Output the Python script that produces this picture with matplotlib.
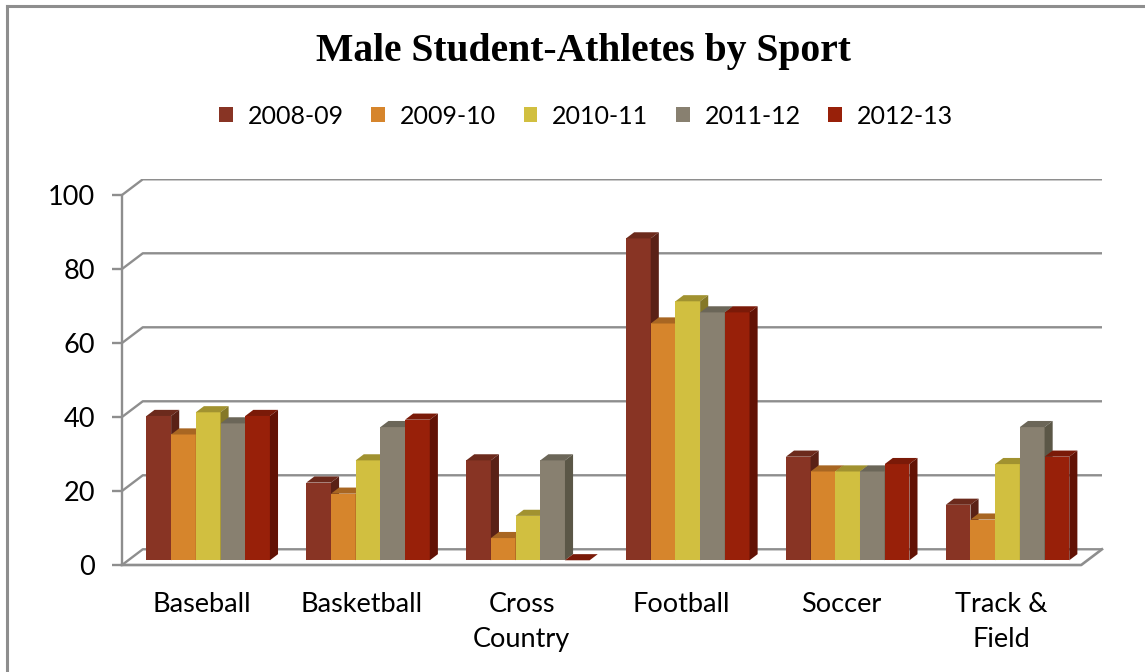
import matplotlib.pyplot as plt
from matplotlib.patches import Patch
from matplotlib.lines import Line2D
import numpy as np

sports = ["Baseball", "Basketball", "Cross\nCountry", "Football", "Soccer", "Track &\nField"]
seasons = ["2008-09", "2009-10", "2010-11", "2011-12", "2012-13"]
v0809 = [39, 21, 27, 87, 28, 15]
v0910 = [34, 18, 6, 64, 24, 11]
v1011 = [40, 27, 12, 70, 24, 26]
v1112 = [37, 36, 27, 67, 24, 36]
v1213 = [39, 38, 0, 67, 26, 28]
series = [v0809, v0910, v1011, v1112, v1213]

fronts = ["#883424", "#D6852C", "#D1BF40", "#888070", "#982009"]
tops = ["#6C2A1C", "#A86622", "#A19230", "#6B6658", "#7A1A08"]
sides = ["#5A2116", "#8C5018", "#857828", "#5B5747", "#621205"]
grey = "#8E8E8E"
font = "Lato"

# fake 3d: wall depth and bar placement inside it
ddx, ddy = 0.13, 4.25
f, d = 0.3, 0.39
bw = 0.1545

fig = plt.figure(figsize=(11.45, 6.72), dpi=100)
ax = fig.add_axes([122 / 1145, 107 / 672, 980 / 1145, 385.7 / 672])
ax.set_xlim(-0.5, 5.5 + ddx)
ax.set_ylim(0, 100 + ddy)

# back wall grid + left wall diagonals
for g in range(0, 101, 20):
    ax.plot([-0.5, -0.5 + ddx, 5.5 + ddx], [g, g + ddy, g + ddy], color=grey, lw=1.7, zorder=1)
# floor
ax.plot([-0.5, 5.5, 5.5 + ddx], [0, 0, ddy], color=grey, lw=1.9, zorder=2, clip_on=False)

x = np.arange(len(sports))
base = f * ddy
for i, vals in enumerate(series):
    xl = x - 2.5 * bw + i * bw + f * ddx
    z = 10 + 3 * i
    ax.bar(xl, vals, width=bw, bottom=base, align="edge", color=fronts[i],
           edgecolor="none", zorder=z)
    for xx, v in zip(xl, vals):
        h = base + v
        ax.fill([xx, xx + bw, xx + bw + d * ddx, xx + d * ddx],
                [h, h, h + d * ddy, h + d * ddy], color=tops[i], lw=0, zorder=z + 1)
        ax.fill([xx + bw, xx + bw + d * ddx, xx + bw + d * ddx, xx + bw],
                [base, base + d * ddy, h + d * ddy, h], color=sides[i], lw=0, zorder=z + 2)

for s in ["top", "right", "bottom"]:
    ax.spines[s].set_visible(False)
ax.spines["left"].set_color(grey)
ax.spines["left"].set_linewidth(1.7)
ax.spines["left"].set_bounds(0, 100)

ax.set_yticks(range(0, 101, 20))
ax.tick_params(axis="y", length=7.5, width=1.7, color=grey, pad=12, labelsize=19.5)
ax.set_xticks(x)
ax.set_xticklabels(sports, linespacing=1.5)
ax.tick_params(axis="x", length=0, pad=19.5, labelsize=19.5)
for lab in ax.get_xticklabels() + ax.get_yticklabels():
    lab.set_fontfamily(font)

fig.text(583 / 1145, 1 - 52 / 672, "Male Student-Athletes by Sport", ha="center", va="center",
         fontsize=28.5, fontweight="bold", family="Liberation Serif")

handles = [Patch(facecolor=c, edgecolor="none") for c in fronts]
fig.legend(handles, seasons, loc="center", bbox_to_anchor=(586 / 1145, 1 - 116 / 672), ncol=5,
           frameon=False, handlelength=0.55, handleheight=0.55, handletextpad=0.6,
           columnspacing=1.1, prop={"family": font, "size": 18})

# chart border
fig.add_artist(Line2D([7 / 1145, 7 / 1145], [0, 1 - 6 / 672], color=grey, lw=2.2))
fig.add_artist(Line2D([7 / 1145, 1], [1 - 6 / 672, 1 - 6 / 672], color=grey, lw=2.2))

fig.savefig("out.png", dpi=100)
